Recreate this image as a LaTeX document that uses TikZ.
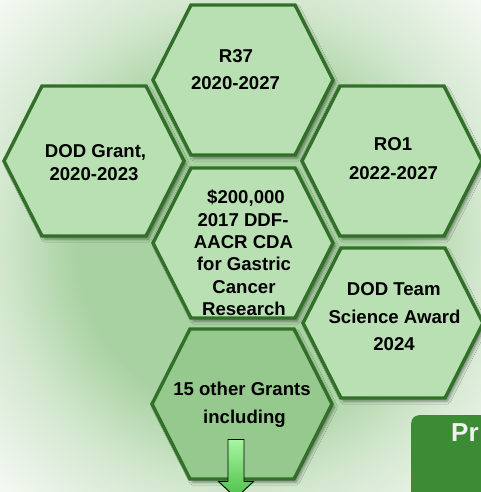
\documentclass[tikz,border=0pt]{standalone}
\usepackage{fontspec}
\setmainfont{Liberation Sans}
\usetikzlibrary{shadows.blur}

\definecolor{hexline}{HTML}{32702A}
\definecolor{hexfill}{HTML}{B9E0B3}
\definecolor{hexdark}{HTML}{95C98E}
\definecolor{bggreen}{HTML}{A8D2A1}
\definecolor{bgmid}{HTML}{D2E7CE}
\definecolor{bglight}{HTML}{F4F8F3}
\definecolor{prfill}{HTML}{3C8C35}
\definecolor{arrtop}{HTML}{A8F6A2}
\definecolor{arrbot}{HTML}{4CC048}

% soft background: green in the middle, fading out towards the borders
\pgfdeclareradialshading{bgshade}{\pgfpoint{0bp}{0bp}}{%
  color(0bp)=(bggreen); color(17bp)=(bggreen); color(25bp)=(bgmid);
  color(35bp)=(bglight); color(50bp)=(bglight)}

% flat-topped hexagon cell centred at (#2,#3), filled with #1
\newcommand\drawhex[3][hexfill]{%
  \draw[hexcell, fill=#1] (#2-90,#3) -- (#2-52,#3-75) -- (#2+52,#3-75)
    -- (#2+90,#3) -- (#2+52,#3+75) -- (#2-52,#3+75) -- cycle;}

\begin{document}
\begin{tikzpicture}[x=1pt, y=-1pt,
  hexcell/.style={draw=hexline, line width=3.4pt, line join=miter,
    blur shadow={shadow xshift=2.5pt, shadow yshift=-3pt,
      shadow blur radius=3pt, shadow opacity=45}},
  gtext/.style={font=\bfseries\fontsize{18.6}{22}\selectfont, anchor=base,
    inner sep=0pt, text=black},
  prbox/.style={fill=prfill, rounded corners=8pt, inner sep=0pt,
    anchor=north west, minimum width=110pt, minimum height=100pt},
  prtext/.style={font=\bfseries\fontsize{26}{30}\selectfont, anchor=base west,
    inner sep=0pt, text=white!94!black},
]
\useasboundingbox (0,0) rectangle (481,492);
\clip (0,0) rectangle (481,492);

\shade[shading=bgshade] (0,0) rectangle (481,492);

% honeycomb of grants
\drawhex{243}{80}
\drawhex{94}{161}
\drawhex{392}{161}
\drawhex{243}{243}
\drawhex{393}{323}
\drawhex[hexdark]{242}{404}

\node[gtext] (r37a) at (236,62.3) {R37};
\node[gtext] (r37b) at (235.5,90) {2020-2027};

\node[gtext] (doda) at (95.5,157.5) {DOD Grant,};
\node[gtext] (dodb) at (94,180) {2020-2023};

\node[gtext] (ro1a) at (393,150.7) {RO1};
\node[gtext] (ro1b) at (393.5,179) {2022-2027};

\node[gtext] (cdaa) at (246,203.6) {\$200,000};
\node[gtext] (cdab) at (243,226) {2017 DDF-};
\node[gtext] (cdac) at (243.5,248.4) {AACR CDA};
\node[gtext] (cdad) at (244,270.8) {for Gastric};
\node[gtext] (cdae) at (244,293.2) {Cancer};
\node[gtext] (cdaf) at (244,315.6) {Research};

\node[gtext] (teama) at (393.7,295) {DOD Team};
\node[gtext] (teamb) at (394.5,323.3) {Science Award};
\node[gtext] (teamc) at (394,350.7) {2024};

\node[gtext] (othera) at (242,395.3) {15 other Grants};
\node[gtext] (otherb) at (244.5,423.3) {including};

% downward block arrow
\shade[top color=arrtop, bottom color=arrbot, draw=black, line width=0.9pt,
  line join=miter]
  (228,439.5) -- (244,439.5) -- (244,481.5) -- (253.5,481.5) -- (236,498)
  -- (218.5,481.5) -- (228,481.5) -- cycle;

% heading box at the lower right
\node[prbox] (pr) at (411,415) {};
\node[prtext] (prlabel) at (451,441.7) {Pr};
\end{tikzpicture}
\end{document}
